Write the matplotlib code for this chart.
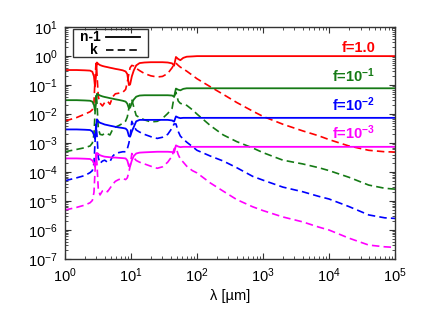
import numpy as np
import matplotlib
matplotlib.use("Agg")
import matplotlib.pyplot as plt
from matplotlib.ticker import LogLocator, NullFormatter

plt.rcParams['font.family'] = ['Liberation Sans', 'DejaVu Sans']
plt.rcParams['mathtext.fontset'] = 'custom'
plt.rcParams['mathtext.rm'] = 'Liberation Sans'
plt.rcParams['mathtext.it'] = 'Liberation Sans:italic'
plt.rcParams['mathtext.bf'] = 'Liberation Sans:bold'

# wavelength grid [um]
wl = [1.0, 1.5, 2.0, 2.4, 2.6, 2.75, 2.85, 2.95, 3.05, 3.2,
      3.4, 3.7, 4.0, 4.4, 4.8, 5.3, 5.8, 6.5, 7.5, 8.3,
      8.8, 9.3, 9.7, 10.3, 11.0, 12.0, 13.5, 16, 20, 25,
      30, 36, 42, 45, 48, 52, 56, 62, 70, 85,
      100, 160, 250, 400, 700, 1000, 2000, 4000, 7000, 1e4,
      2e4, 4e4, 7e4, 1e5]

# log10(n-1) and log10(k) for each filling factor f
n1_f1 = [-0.48, -0.48, -0.49, -0.50, -0.54, -0.70, -1.05, -0.70, -0.22, -0.27,
         -0.31, -0.34, -0.36, -0.38, -0.40, -0.42, -0.44, -0.46, -0.49, -0.53,
         -0.62, -1.00, -0.98, -0.70, -0.50, -0.32, -0.24, -0.22, -0.21, -0.21,
         -0.21, -0.22, -0.25, -0.33, -0.03, -0.10, -0.14, -0.06, -0.02, -0.01,
         0.0, 0.0, 0.0, 0.0, 0.0, 0.0, 0.0, 0.0, 0.0, 0.0,
         0.0, 0.0, 0.0, 0.0]
k_f1 = [-2.24, -2.12, -2.00, -1.92, -1.85, -1.60, -0.80, -0.25, -0.60, -1.40,
        -1.62, -1.72, -1.60, -1.55, -1.66, -1.40, -1.30, -1.28, -1.25, -1.15,
        -0.90, -0.60, -0.40, -0.32, -0.34, -0.42, -0.50, -0.60, -0.68, -0.72,
        -0.70, -0.60, -0.40, -0.28, -0.24, -0.32, -0.38, -0.44, -0.52, -0.66,
        -0.78, -1.06, -1.32, -1.60, -1.90, -2.08, -2.35, -2.58, -2.75, -2.88,
        -3.10, -3.25, -3.30, -3.31]

n1_f01 = [-1.52, -1.52, -1.53, -1.54, -1.57, -1.68, -1.88, -1.65, -1.30, -1.33,
          -1.36, -1.39, -1.41, -1.43, -1.45, -1.47, -1.49, -1.51, -1.54, -1.57,
          -1.64, -1.80, -1.78, -1.62, -1.50, -1.40, -1.36, -1.35, -1.35, -1.35,
          -1.35, -1.35, -1.36, -1.40, -1.12, -1.16, -1.18, -1.13, -1.11, -1.11,
          -1.11, -1.11, -1.11, -1.11, -1.11, -1.11, -1.11, -1.11, -1.11, -1.11,
          -1.11, -1.11, -1.11, -1.11]
k_f01 = [-3.30, -3.22, -3.16, -3.10, -3.00, -2.70, -2.00, -1.30, -1.60, -2.50,
         -2.70, -2.72, -2.66, -2.68, -2.72, -2.52, -2.45, -2.40, -2.32, -2.24,
         -2.10, -1.80, -1.60, -1.50, -1.75, -2.05, -2.12, -2.20, -2.27, -2.25,
         -2.15, -1.98, -1.80, -1.40, -1.25, -1.55, -1.63, -1.66, -1.70, -1.85,
         -2.00, -2.40, -2.72, -2.95, -3.17, -3.33, -3.59, -3.72, -3.85, -3.95,
         -4.18, -4.45, -4.56, -4.59]

n1_f001 = [-2.53, -2.53, -2.54, -2.55, -2.60, -2.72, -2.85, -2.60, -2.18, -2.26,
           -2.30, -2.33, -2.36, -2.38, -2.40, -2.42, -2.44, -2.46, -2.48, -2.50,
           -2.56, -2.76, -2.78, -2.60, -2.45, -2.25, -2.20, -2.20, -2.20, -2.20,
           -2.20, -2.20, -2.22, -2.26, -2.08, -2.12, -2.14, -2.13, -2.13, -2.13,
           -2.13, -2.13, -2.13, -2.13, -2.13, -2.13, -2.13, -2.13, -2.13, -2.13,
           -2.13, -2.13, -2.13, -2.13]
k_f001 = [-4.30, -4.20, -4.12, -4.02, -3.95, -3.70, -3.00, -2.35, -2.70, -3.50,
          -3.70, -3.62, -3.59, -3.66, -3.64, -3.45, -3.36, -3.33, -3.30, -3.30,
          -3.20, -3.00, -2.78, -2.25, -2.40, -2.55, -2.62, -2.70, -2.78, -2.84,
          -2.80, -2.70, -2.48, -2.34, -2.34, -2.60, -2.76, -2.86, -2.97, -3.12,
          -3.25, -3.45, -3.62, -3.85, -4.15, -4.28, -4.52, -4.68, -4.84, -4.93,
          -5.19, -5.48, -5.58, -5.60]

n1_f0001 = [-3.53, -3.53, -3.54, -3.55, -3.60, -3.70, -3.82, -3.60, -3.34, -3.38,
            -3.42, -3.45, -3.47, -3.48, -3.49, -3.50, -3.50, -3.51, -3.52, -3.53,
            -3.60, -3.80, -3.80, -3.60, -3.45, -3.36, -3.33, -3.32, -3.31, -3.30,
            -3.30, -3.30, -3.31, -3.33, -3.08, -3.12, -3.14, -3.13, -3.13, -3.13,
            -3.13, -3.13, -3.13, -3.13, -3.13, -3.13, -3.13, -3.13, -3.13, -3.13,
            -3.13, -3.13, -3.13, -3.13]
k_f0001 = [-5.31, -5.22, -5.14, -5.06, -4.98, -4.70, -4.00, -3.35, -3.70, -4.60,
           -4.79, -4.65, -4.62, -4.68, -4.56, -4.42, -4.32, -4.26, -4.22, -4.26,
           -4.20, -4.00, -3.80, -3.36, -3.50, -3.60, -3.66, -3.72, -3.80, -3.87,
           -3.82, -3.66, -3.45, -3.20, -3.15, -3.40, -3.55, -3.66, -3.80, -3.95,
           -4.03, -4.38, -4.66, -4.95, -5.20, -5.33, -5.55, -5.72, -5.90, -6.00,
           -6.28, -6.52, -6.58, -6.60]

series_labels = ['f=1.0', 'f=10$^{\\mathbf{-1}}$', 'f=10$^{\\mathbf{-2}}$', 'f=10$^{\\mathbf{-3}}$']
colors = ['#ff0000', '#157a15', '#0000ff', '#ff00ff']
n1_all = [n1_f1, n1_f01, n1_f001, n1_f0001]
k_all = [k_f1, k_f01, k_f001, k_f0001]
label_y = [1.41, 0.13, 1.26e-2, 1.35e-3]

fig = plt.figure(figsize=(4.36, 3.27), dpi=100)
ax = fig.add_axes([0.149, 0.208, 0.757, 0.709])

x = np.array(wl)
dash = (0, (4.5, 2.5))
for c, n1, k in zip(colors, n1_all, k_all):
    ax.plot(x, 10 ** np.array(n1), color=c, lw=1.3, solid_joinstyle='round')
    ax.plot(x, 10 ** np.array(k), color=c, lw=1.2, linestyle=dash)

ax.set_xscale('log')
ax.set_yscale('log')
ax.set_xlim(1, 1e5)
ax.set_ylim(1e-7, 10)

ax.xaxis.set_major_locator(LogLocator(base=10, numticks=10))
ax.yaxis.set_major_locator(LogLocator(base=10, numticks=12))
ax.xaxis.set_minor_locator(LogLocator(base=10, subs=np.arange(2, 10), numticks=12))
ax.yaxis.set_minor_locator(LogLocator(base=10, subs=np.arange(2, 10), numticks=12))
ax.xaxis.set_minor_formatter(NullFormatter())
ax.yaxis.set_minor_formatter(NullFormatter())
ax.tick_params(which='both', direction='in', top=True, right=True, labelsize=10.5,
               color='#333333')
ax.tick_params(which='major', length=4, width=0.8, pad=5)
ax.tick_params(which='minor', length=2, width=0.6)
for s in ax.spines.values():
    s.set_color('#333333')
    s.set_linewidth(1.0)

ax.set_xlabel('λ [µm]', fontsize=10.5, labelpad=3)

for lab, c, yv in zip(series_labels, colors, label_y):
    ax.text(5.0e4, yv, lab, color=c, fontsize=10.5, fontweight='bold',
            ha='right', va='baseline')

# legend (gnuplot style: text left of sample)
ax.add_patch(plt.Rectangle((0.023, 0.871), 0.229, 0.12, transform=ax.transAxes,
                           fill=False, edgecolor='#333333', lw=1.0, zorder=5))
ax.text(0.108, 0.958, 'n-1', transform=ax.transAxes, ha='right', va='center',
        fontsize=10, fontweight='bold', zorder=6)
ax.text(0.1, 0.9, 'k', transform=ax.transAxes, ha='right', va='center',
        fontsize=10, fontweight='bold', zorder=6)
ax.plot([0.124, 0.228], [0.958, 0.958], transform=ax.transAxes, color='black', lw=1.3, zorder=6)
ax.plot([0.124, 0.228], [0.9, 0.9], transform=ax.transAxes, color='black', lw=1.2,
        linestyle=dash, zorder=6)

fig.savefig('out.png', dpi=100)
